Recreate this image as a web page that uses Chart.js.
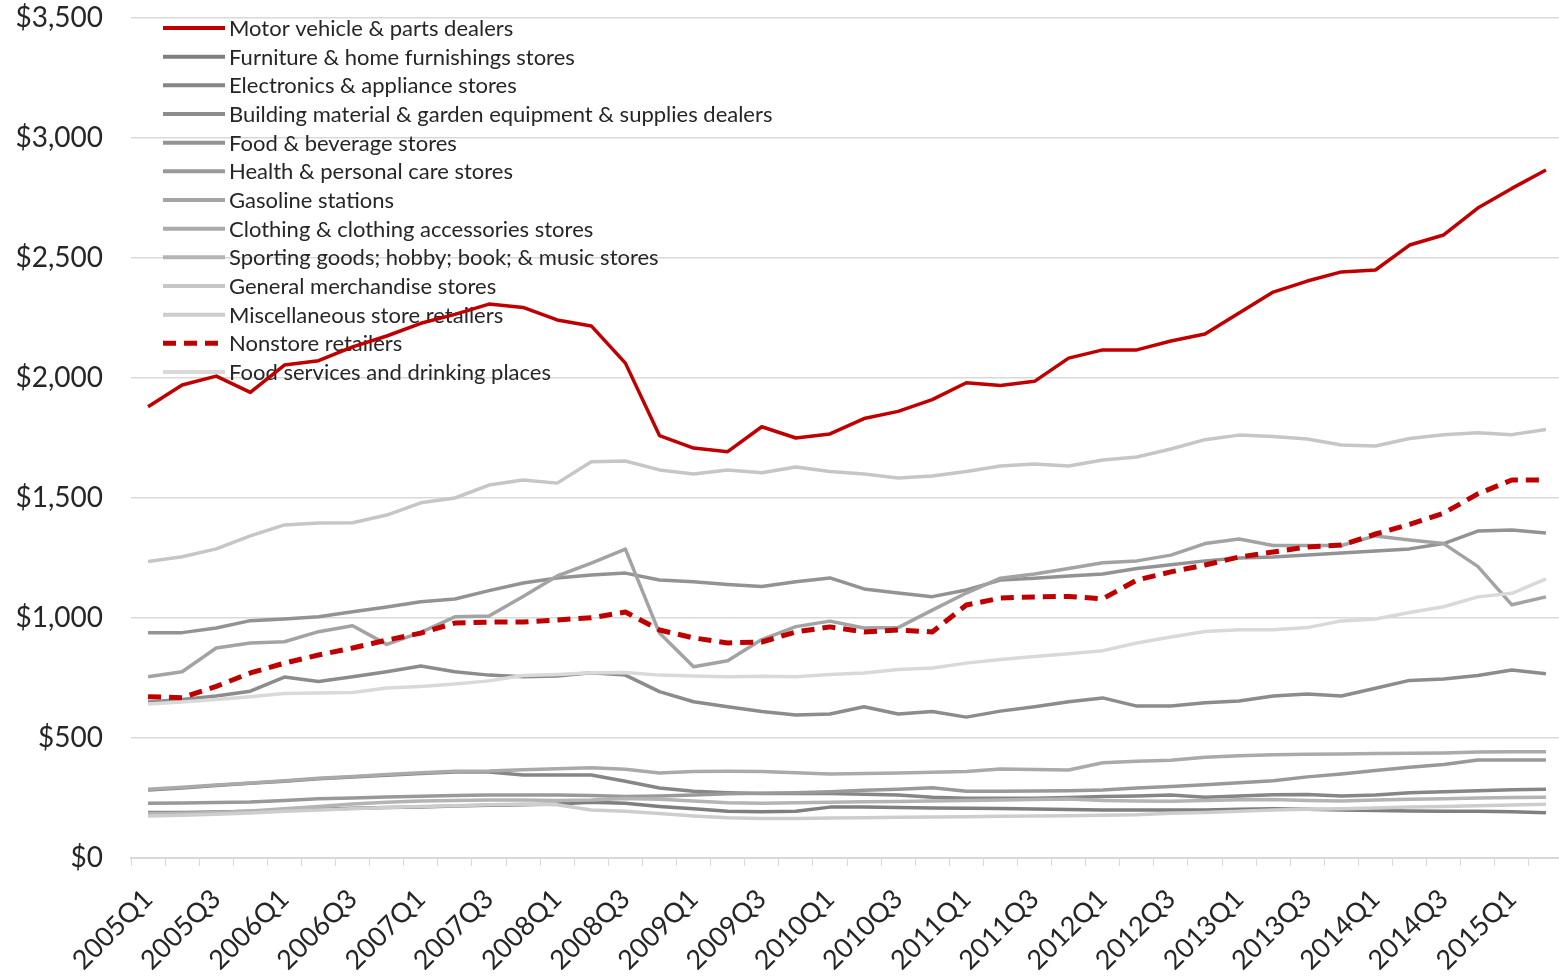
<!DOCTYPE html>
<html>
<head>
<meta charset="utf-8">
<title>Retail sales by kind of business</title>
<script src="https://cdn.jsdelivr.net/npm/chart.js@4.4.1/dist/chart.umd.min.js"></script>
<style>
    html, body { margin: 0; padding: 0; background: #fff; overflow: hidden; }
    #wrap { width: 1563px; height: 979px; }
</style>
</head>
<body>
<div id="wrap"><canvas id="chart-retail" width="1563" height="979"></canvas></div>
<script>
'use strict';

// Quarters on the x axis (every second one is labelled)
var quarters = [
    '2005Q1', '2005Q2', '2005Q3', '2005Q4', '2006Q1', '2006Q2', '2006Q3', '2006Q4',
    '2007Q1', '2007Q2', '2007Q3', '2007Q4', '2008Q1', '2008Q2', '2008Q3', '2008Q4',
    '2009Q1', '2009Q2', '2009Q3', '2009Q4', '2010Q1', '2010Q2', '2010Q3', '2010Q4',
    '2011Q1', '2011Q2', '2011Q3', '2011Q4', '2012Q1', '2012Q2', '2012Q3', '2012Q4',
    '2013Q1', '2013Q2', '2013Q3', '2013Q4', '2014Q1', '2014Q2', '2014Q3', '2014Q4',
    '2015Q1', '2015Q2'
];

var yTicks = [0, 500, 1000, 1500, 2000, 2500, 3000, 3500];

// Series values
var motorVehicle = [1880, 1971, 2008, 1940, 2054, 2072, 2130, 2175, 2228, 2265, 2308, 2294, 2242, 2217, 2062, 1760, 1708, 1693, 1797, 1750, 1767, 1831, 1861, 1910, 1980, 1969, 1986, 2083, 2117, 2117, 2154, 2183, 2271, 2358, 2404, 2442, 2450, 2554, 2596, 2708, 2790, 2867];
var furniture = [190, 190, 192, 195, 200, 203, 207, 210, 213, 217, 220, 222, 225, 232, 228, 215, 205, 195, 193, 195, 212, 212, 210, 208, 207, 206, 204, 202, 200, 200, 200, 200, 203, 205, 203, 200, 198, 196, 195, 195, 193, 189];
var electronics = [283, 292, 302, 311, 320, 330, 338, 345, 352, 358, 358, 346, 346, 346, 320, 292, 278, 272, 269, 269, 269, 266, 263, 253, 249, 249, 249, 252, 256, 258, 262, 253, 258, 264, 265, 258, 262, 272, 276, 280, 284, 286];
var buildingMaterial = [650, 660, 675, 695, 754, 735, 755, 776, 800, 776, 762, 755, 758, 772, 762, 693, 651, 630, 610, 596, 600, 630, 600, 610, 587, 612, 630, 651, 667, 633, 633, 647, 654, 675, 683, 675, 707, 740, 746, 760, 783, 768];
var foodBeverage = [939, 939, 958, 989, 996, 1005, 1026, 1046, 1068, 1079, 1114, 1146, 1167, 1179, 1187, 1158, 1151, 1140, 1131, 1151, 1167, 1121, 1104, 1089, 1117, 1158, 1166, 1175, 1183, 1206, 1222, 1238, 1250, 1254, 1262, 1271, 1279, 1288, 1310, 1362, 1367, 1354];
var healthCare = [228, 229, 231, 233, 240, 247, 250, 254, 257, 260, 263, 263, 263, 260, 256, 258, 262, 268, 270, 272, 276, 282, 286, 293, 278, 278, 279, 280, 283, 292, 298, 305, 314, 322, 338, 350, 365, 378, 390, 408, 408, 408];
var gasoline = [755, 776, 875, 896, 901, 943, 968, 890, 940, 1005, 1008, 1090, 1175, 1229, 1287, 937, 797, 822, 910, 964, 987, 958, 960, 1033, 1104, 1166, 1183, 1206, 1230, 1238, 1262, 1310, 1329, 1302, 1302, 1302, 1342, 1325, 1310, 1215, 1055, 1088];
var clothing = [286, 295, 304, 313, 322, 332, 340, 348, 355, 361, 362, 368, 372, 376, 370, 354, 360, 361, 360, 355, 350, 352, 354, 357, 360, 371, 369, 367, 397, 403, 407, 420, 426, 430, 432, 433, 435, 436, 438, 442, 443, 443];
var sportingGoods = [185, 186, 190, 196, 205, 215, 225, 232, 237, 240, 242, 242, 240, 242, 248, 245, 238, 230, 228, 230, 232, 234, 235, 237, 240, 242, 244, 246, 240, 238, 236, 240, 243, 244, 240, 238, 242, 245, 247, 250, 252, 253];
var generalMerchandise = [1235, 1255, 1288, 1342, 1388, 1396, 1397, 1429, 1480, 1500, 1554, 1575, 1562, 1651, 1654, 1617, 1600, 1617, 1605, 1629, 1610, 1600, 1583, 1592, 1610, 1633, 1642, 1633, 1658, 1671, 1704, 1743, 1762, 1756, 1746, 1721, 1717, 1748, 1764, 1772, 1764, 1785];
var miscellaneous = [175, 178, 182, 188, 195, 200, 205, 210, 215, 218, 222, 225, 222, 200, 195, 185, 175, 168, 165, 165, 167, 168, 170, 171, 172, 174, 175, 176, 178, 180, 186, 190, 195, 200, 203, 205, 208, 212, 215, 218, 221, 224];
var nonstore = [672, 668, 715, 771, 812, 846, 875, 908, 937, 979, 983, 983, 992, 1001, 1025, 950, 917, 896, 900, 942, 963, 942, 950, 942, 1054, 1083, 1088, 1090, 1080, 1158, 1192, 1221, 1254, 1275, 1296, 1304, 1350, 1390, 1437, 1517, 1575, 1575];
var foodServices = [642, 650, 660, 672, 685, 687, 690, 708, 715, 725, 738, 760, 765, 772, 773, 762, 758, 755, 757, 755, 765, 771, 785, 792, 812, 827, 840, 851, 864, 896, 921, 944, 951, 951, 960, 988, 996, 1023, 1047, 1088, 1103, 1163];

var seriesNames = [
    'Motor vehicle & parts dealers',
    'Furniture & home furnishings stores',
    'Electronics & appliance stores',
    'Building material & garden equipment & supplies dealers',
    'Food & beverage stores',
    'Health & personal care stores',
    'Gasoline stations',
    'Clothing & clothing accessories stores',
    'Sporting goods; hobby; book; & music stores',
    'General merchandise stores',
    'Miscellaneous store retailers',
    'Nonstore retailers',
    'Food services and drinking places'
];

var seriesValues = [
    motorVehicle, furniture, electronics, buildingMaterial, foodBeverage, healthCare,
    gasoline, clothing, sportingGoods, generalMerchandise, miscellaneous, nonstore, foodServices
];

var seriesColors = [
    '#c00000', '#7f7f7f', '#868686', '#8c8c8c', '#939393', '#999999',
    '#a3a3a3', '#aaaaaa', '#b4b4b4', '#c6c6c6', '#cdcdcd', '#c00000', '#d9d9d9'
];

var TEXT = '#262626';
var GRID = '#d9d9d9';

Chart.defaults.font.family = 'Lato';
Chart.defaults.color = TEXT;

/**
 * Legend drawn inside the plot, top left, one entry per row.
 */
var insideLegend = {
    id: 'insideLegend',
    beforeDatasetsDraw: function (chart) {
        var ctx = chart.ctx;
        var area = chart.chartArea;
        ctx.save();
        ctx.font = '22px Lato';
        ctx.textBaseline = 'middle';
        ctx.textAlign = 'left';
        chart.data.datasets.forEach(function (ds, i) {
            var x = area.left + 32;
            var y = area.top + 10 + i * 28.67;
            ctx.beginPath();
            ctx.lineWidth = ds.borderDash ? 5 : 4;
            ctx.strokeStyle = ds.borderColor;
            ctx.setLineDash(ds.borderDash || []);
            ctx.moveTo(x, y);
            ctx.lineTo(x + 62, y);
            ctx.stroke();
            ctx.setLineDash([]);
            ctx.fillStyle = TEXT;
            ctx.fillText(ds.label, x + 66, y + 1);
        });
        ctx.restore();
    }
};

function buildDatasets() {
    return seriesNames.map(function (name, i) {
        var dashed = (i === 11);
        return {
            label: name,
            data: seriesValues[i],
            borderColor: seriesColors[i],
            backgroundColor: seriesColors[i],
            borderWidth: dashed ? 5 : 3.5,
            borderDash: dashed ? [13, 8] : undefined,
            borderCapStyle: 'butt',
            borderJoinStyle: 'round',
            pointRadius: 0,
            tension: 0,
            fill: false,
            // later series are drawn on top, as in the source
            order: seriesNames.length - 1 - i,
        };
    });
}

new Chart(document.getElementById('chart-retail'), {
    type: 'line',
    data: {
        labels: quarters,
        datasets: buildDatasets(),
    },
    options: {
        responsive: false,
        animation: false,
        events: [],
        layout: { padding: { top: 18, left: 0, right: 0, bottom: 0 } },
        plugins: {
            legend: { display: false },
            tooltip: { enabled: false },
        },
        scales: {
            x: {
                type: 'category',
                offset: true,
                border: { display: true, color: GRID, width: 2 },
                grid: {
                    offset: true,
                    drawOnChartArea: false,
                    drawTicks: true,
                    tickLength: 8,
                    color: GRID,
                    lineWidth: 1,
                },
                ticks: {
                    autoSkip: false,
                    minRotation: 45,
                    maxRotation: 45,
                    padding: 17,
                    font: { size: 27 },
                    color: TEXT,
                    callback: function (value, index) {
                        return index % 2 === 0 ? quarters[index] : '';
                    },
                },
                afterFit: function (scale) {
                    scale.height = 121;
                    scale.paddingLeft = 0;
                    scale.paddingRight = 0;
                },
            },
            y: {
                min: yTicks[0],
                max: yTicks[yTicks.length - 1],
                border: { display: false },
                grid: { color: GRID, lineWidth: 1.5, drawTicks: false },
                afterBuildTicks: function (scale) {
                    scale.ticks = yTicks.map(function (v) { return { value: v }; });
                },
                ticks: {
                    padding: 28,
                    font: { size: 28 },
                    color: TEXT,
                    callback: function (value) {
                        return '$' + Number(value).toLocaleString('en-US');
                    },
                },
                afterFit: function (scale) {
                    scale.width = 131;
                    scale.paddingTop = 0;
                    scale.paddingBottom = 0;
                },
            },
        },
    },
    plugins: [insideLegend],
});
</script>
</body>
</html>
